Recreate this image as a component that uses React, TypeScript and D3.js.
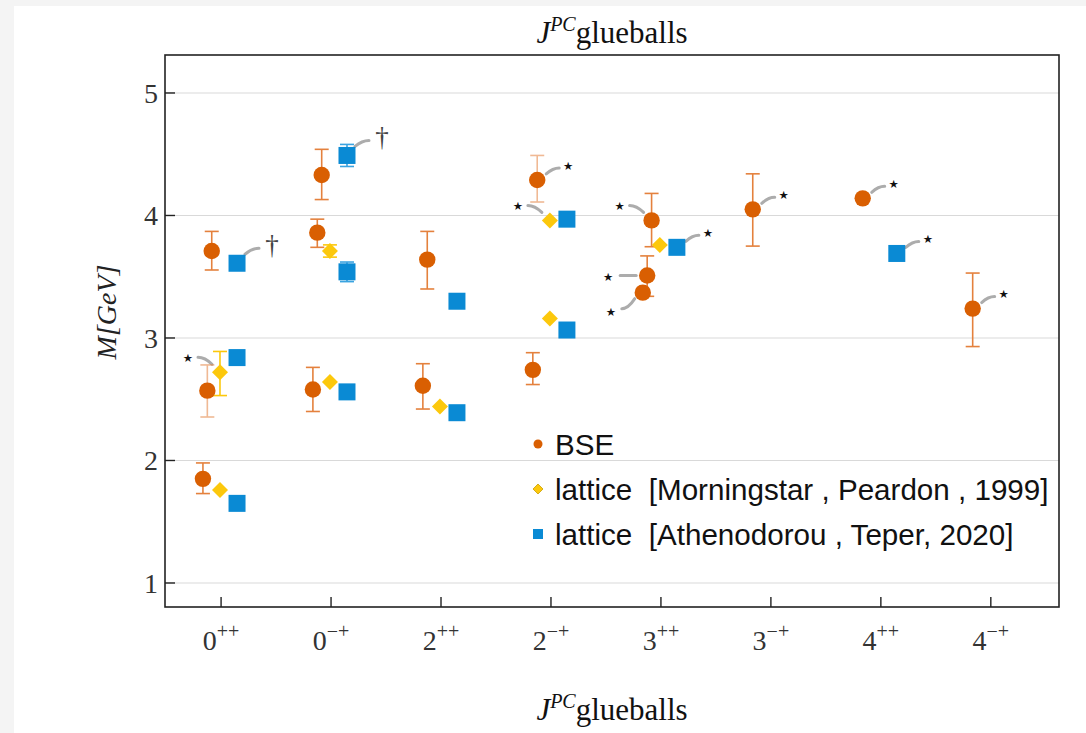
import React from "react";
import * as d3 from "d3";

// J^PC categories (digit + superscript parity/charge-conjugation)
const catDigits = ["0", "0", "2", "2", "3", "3", "4", "4"];
const catSups = ["++", "\u2212+", "++", "\u2212+", "++", "\u2212+", "++", "\u2212+"];

// BSE masses (GeV): category index, excitation level within category, mass, error range
const bseCat = [0, 0, 0, 1, 1, 1, 2, 2, 3, 3, 4, 4, 4, 5, 6, 7];
const bseLevel = [0, 1, 2, 0, 1, 2, 0, 1, 0, 1, 0, 1, 2, 0, 0, 0];
const bseMass = [1.85, 2.57, 3.71, 2.58, 3.86, 4.33, 2.61, 3.64, 2.74, 4.29, 3.37, 3.51, 3.96, 4.05, 4.14, 3.24];
const bseLo = [1.73, 2.355, 3.555, 2.4, 3.74, 4.13, 2.42, 3.4, 2.62, 4.11, null, 3.34, 3.745, 3.75, null, 2.93];
const bseHi = [1.98, 2.78, 3.87, 2.76, 3.97, 4.54, 2.79, 3.87, 2.88, 4.49, null, 3.67, 4.18, 4.34, null, 3.53];
const bseFaint = [false, true, false, false, false, false, false, false, false, true, false, false, false, false, false, false];

// lattice [Morningstar, Peardon, 1999]
const mpCat = [0, 0, 1, 1, 2, 3, 3, 4];
const mpMass = [1.76, 2.72, 2.64, 3.71, 2.44, 3.16, 3.96, 3.76];
const mpLo = [null, 2.53, null, 3.66, null, null, null, null];
const mpHi = [null, 2.89, null, 3.76, null, null, null, null];

// lattice [Athenodorou, Teper, 2020]
const atCat = [0, 0, 0, 1, 1, 1, 2, 2, 3, 3, 4, 6];
const atMass = [1.65, 2.84, 3.61, 2.56, 3.54, 4.49, 2.39, 3.3, 3.065, 3.97, 3.74, 3.69];
const atLo = [null, null, null, null, 3.46, 4.4, null, null, null, null, null, null];
const atHi = [null, null, null, null, 3.62, 4.58, null, null, null, null, null, null];

// annotations: series, point index, mark, placement style
const annSeries = ["at", "at", "mp", "bse", "mp", "bse", "at", "bse", "bse", "bse", "bse", "at", "bse"];
const annIndex = [2, 5, 1, 9, 6, 12, 10, 11, 10, 13, 14, 11, 15];
const annMark = ["\u2020", "\u2020", "\u2605", "\u2605", "\u2605", "\u2605", "\u2605", "\u2605", "\u2605", "\u2605", "\u2605", "\u2605", "\u2605"];
const annStyle = ["dagger", "dagger", "left", "right", "left", "left", "right", "flat", "low", "right", "right", "right", "right"];

const yTicks = [1, 2, 3, 4, 5];

const W = 1086;
const H = 733;
const L = 165, R = 1059, T = 55, B = 607;

const ORANGE = "#d95f02";
const ORANGE_ERR = "#e4813d";
const YELLOW = "#fcc80c";
const BLUE = "#0a8ad4";

const SERIF = "'Liberation Serif', 'DejaVu Serif', serif";
const SANS = "'Liberation Sans', Arial, sans-serif";

// connector geometry relative to marker centre: [ax, ay, bx, by, lx, ly]
const annGeom: Record<string, number[]> = {
  right: [22, -12, 9, -6, 31, -15],
  dagger: [22, -15, 8, -9, 35, -19],
  left: [-22, -15, -8, -8, -32, -15],
  flat: [-27, 0, -11, 0, -39, 1],
  low: [-21, 16, -8, 6, -32, 19],
};

const Title = ({ y }: { y: number }) => (
  <text x={(L + R) / 2} y={y} textAnchor="middle" fontFamily={SERIF} fontSize={31} fill="#111">
    <tspan fontStyle="italic">J</tspan>
    <tspan fontStyle="italic" fontSize={20} dy={-12}>PC</tspan>
    <tspan dy={12}>glueballs</tspan>
  </text>
);

const App = () => {
  const x = d3.scaleLinear().domain([-0.51, 7.62]).range([L, R]);
  const y = d3.scaleLinear().domain([0.804, 5.31]).range([B, T]);

  const bsePts = bseMass.map((m, i) => ({
    cx: x(bseCat[i] - 0.165 + 0.04 * bseLevel[i]),
    cy: y(m),
    lo: bseLo[i],
    hi: bseHi[i],
    faint: bseFaint[i],
  }));
  const mpPts = mpMass.map((m, i) => ({ cx: x(mpCat[i] - 0.01), cy: y(m), lo: mpLo[i], hi: mpHi[i] }));
  const atPts = atMass.map((m, i) => ({ cx: x(atCat[i] + 0.145), cy: y(m), lo: atLo[i], hi: atHi[i] }));
  const series: Record<string, { cx: number; cy: number }[]> = { bse: bsePts, mp: mpPts, at: atPts };

  const errBar = (cx: number, lo: number | null, hi: number | null, color: string, key: string, op = 1) => {
    if (lo == null || hi == null) return null;
    const y0 = y(lo), y1 = y(hi);
    return (
      <g key={key} stroke={color} strokeWidth={1.6} opacity={op}>
        <line x1={cx} x2={cx} y1={y0} y2={y1} />
        <line x1={cx - 7} x2={cx + 7} y1={y0} y2={y0} />
        <line x1={cx - 7} x2={cx + 7} y1={y1} y2={y1} />
      </g>
    );
  };

  const diamond = (cx: number, cy: number, r: number) =>
    `M${cx},${cy - r}L${cx + r},${cy}L${cx},${cy + r}L${cx - r},${cy}Z`;

  return (
    <svg width={W} height={H} style={{ position: "absolute", left: 0, top: 0 }}>
      <rect x={0} y={0} width={W} height={H} fill="#f4f4f4" />
      <rect x={14} y={6} width={W - 14} height={H - 6} fill="#ffffff" />

      {/* grid */}
      {yTicks.map((t) => (
        <line key={"g" + t} x1={L} x2={R} y1={y(t)} y2={y(t)} stroke="#d9d9d9" strokeWidth={1.2} />
      ))}

      {/* frame */}
      <rect x={L} y={T} width={R - L} height={B - T} fill="none" stroke="#222" strokeWidth={1.6} />

      {/* y ticks & labels */}
      {yTicks.map((t) => (
        <g key={"yt" + t}>
          <line x1={L} x2={L + 10} y1={y(t)} y2={y(t)} stroke="#222" strokeWidth={1.4} />
          <text x={L - 7} y={y(t)} dy="0.35em" textAnchor="end" fontFamily={SERIF} fontSize={28} fill="#333">
            {t}
          </text>
        </g>
      ))}

      {/* x ticks & labels */}
      {catDigits.map((d, i) => (
        <g key={"xt" + i}>
          <line x1={x(i)} x2={x(i)} y1={B} y2={B - 10} stroke="#222" strokeWidth={1.4} />
          <text x={x(i)} y={B + 43} textAnchor="middle" fontFamily={SERIF} fontSize={28} fill="#333">
            <tspan>{d}</tspan>
            <tspan fontSize={20} dy={-12}>{catSups[i]}</tspan>
          </text>
        </g>
      ))}

      {/* y label */}
      <text
        transform={`translate(116,${312}) rotate(-90)`}
        textAnchor="middle"
        fontFamily={SERIF}
        fontStyle="italic"
        fontSize={28}
        fill="#222"
      >
        M[GeV]
      </text>

      <Title y={43} />
      <Title y={720} />

      {/* annotations connectors */}
      {annSeries.map((s, k) => {
        const p = series[s][annIndex[k]];
        const [ax, ay, bx, by, lx, ly] = annGeom[annStyle[k]];
        const A = [p.cx + ax, p.cy + ay];
        const Bp = [p.cx + bx, p.cy + by];
        const c = [A[0] + (Bp[0] - A[0]) * 0.5, A[1]];
        const dag = annMark[k] === "\u2020";
        return (
          <g key={"an" + k}>
            <path
              d={`M${A[0]},${A[1]}Q${c[0]},${c[1]} ${Bp[0]},${Bp[1]}`}
              fill="none"
              stroke="#acacac"
              strokeWidth={3}
              strokeLinecap="round"
            />
            <text
              x={p.cx + lx}
              y={p.cy + ly}
              dy={dag ? "0.35em" : "0.4em"}
              textAnchor="middle"
              fontFamily={dag ? SERIF : "'DejaVu Sans', sans-serif"}
              fontSize={dag ? 27 : 11.5}
              fill={dag ? "#444" : "#111"}
            >
              {annMark[k]}
            </text>
          </g>
        );
      })}

      {/* error bars */}
      {bsePts.map((p, i) => errBar(p.cx, p.lo, p.hi, ORANGE_ERR, "be" + i, p.faint ? 0.55 : 1))}
      {mpPts.map((p, i) => errBar(p.cx, p.lo, p.hi, YELLOW, "me" + i))}
      {atPts.map((p, i) => errBar(p.cx, p.lo, p.hi, "#3aa3e0", "ae" + i))}

      {/* markers */}
      {bsePts.map((p, i) => (
        <circle key={"b" + i} cx={p.cx} cy={p.cy} r={8.2} fill={ORANGE} />
      ))}
      {mpPts.map((p, i) => (
        <path key={"m" + i} d={diamond(p.cx, p.cy, 8)} fill={YELLOW} />
      ))}
      {atPts.map((p, i) => (
        <rect key={"a" + i} x={p.cx - 8.5} y={p.cy - 8.5} width={17} height={17} fill={BLUE} />
      ))}

      {/* legend */}
      <g fontFamily={SANS} fontSize={29.6} fill="#111">
        <circle cx={538} cy={444} r={4.5} fill={ORANGE} />
        <text x={555} y={444} dy="0.36em">BSE</text>
        <path d={diamond(538, 489, 5)} fill={YELLOW} stroke="#c9a000" strokeWidth={0.8} />
        <text x={555} y={489} dy="0.36em">{"lattice\u00a0\u00a0[Morningstar , Peardon , 1999]"}</text>
        <rect x={533} y={529} width={10} height={10} fill={BLUE} />
        <text x={555} y={534} dy="0.36em">{"lattice\u00a0\u00a0[Athenodorou , Teper, 2020]"}</text>
      </g>
    </svg>
  );
};

export default App;
